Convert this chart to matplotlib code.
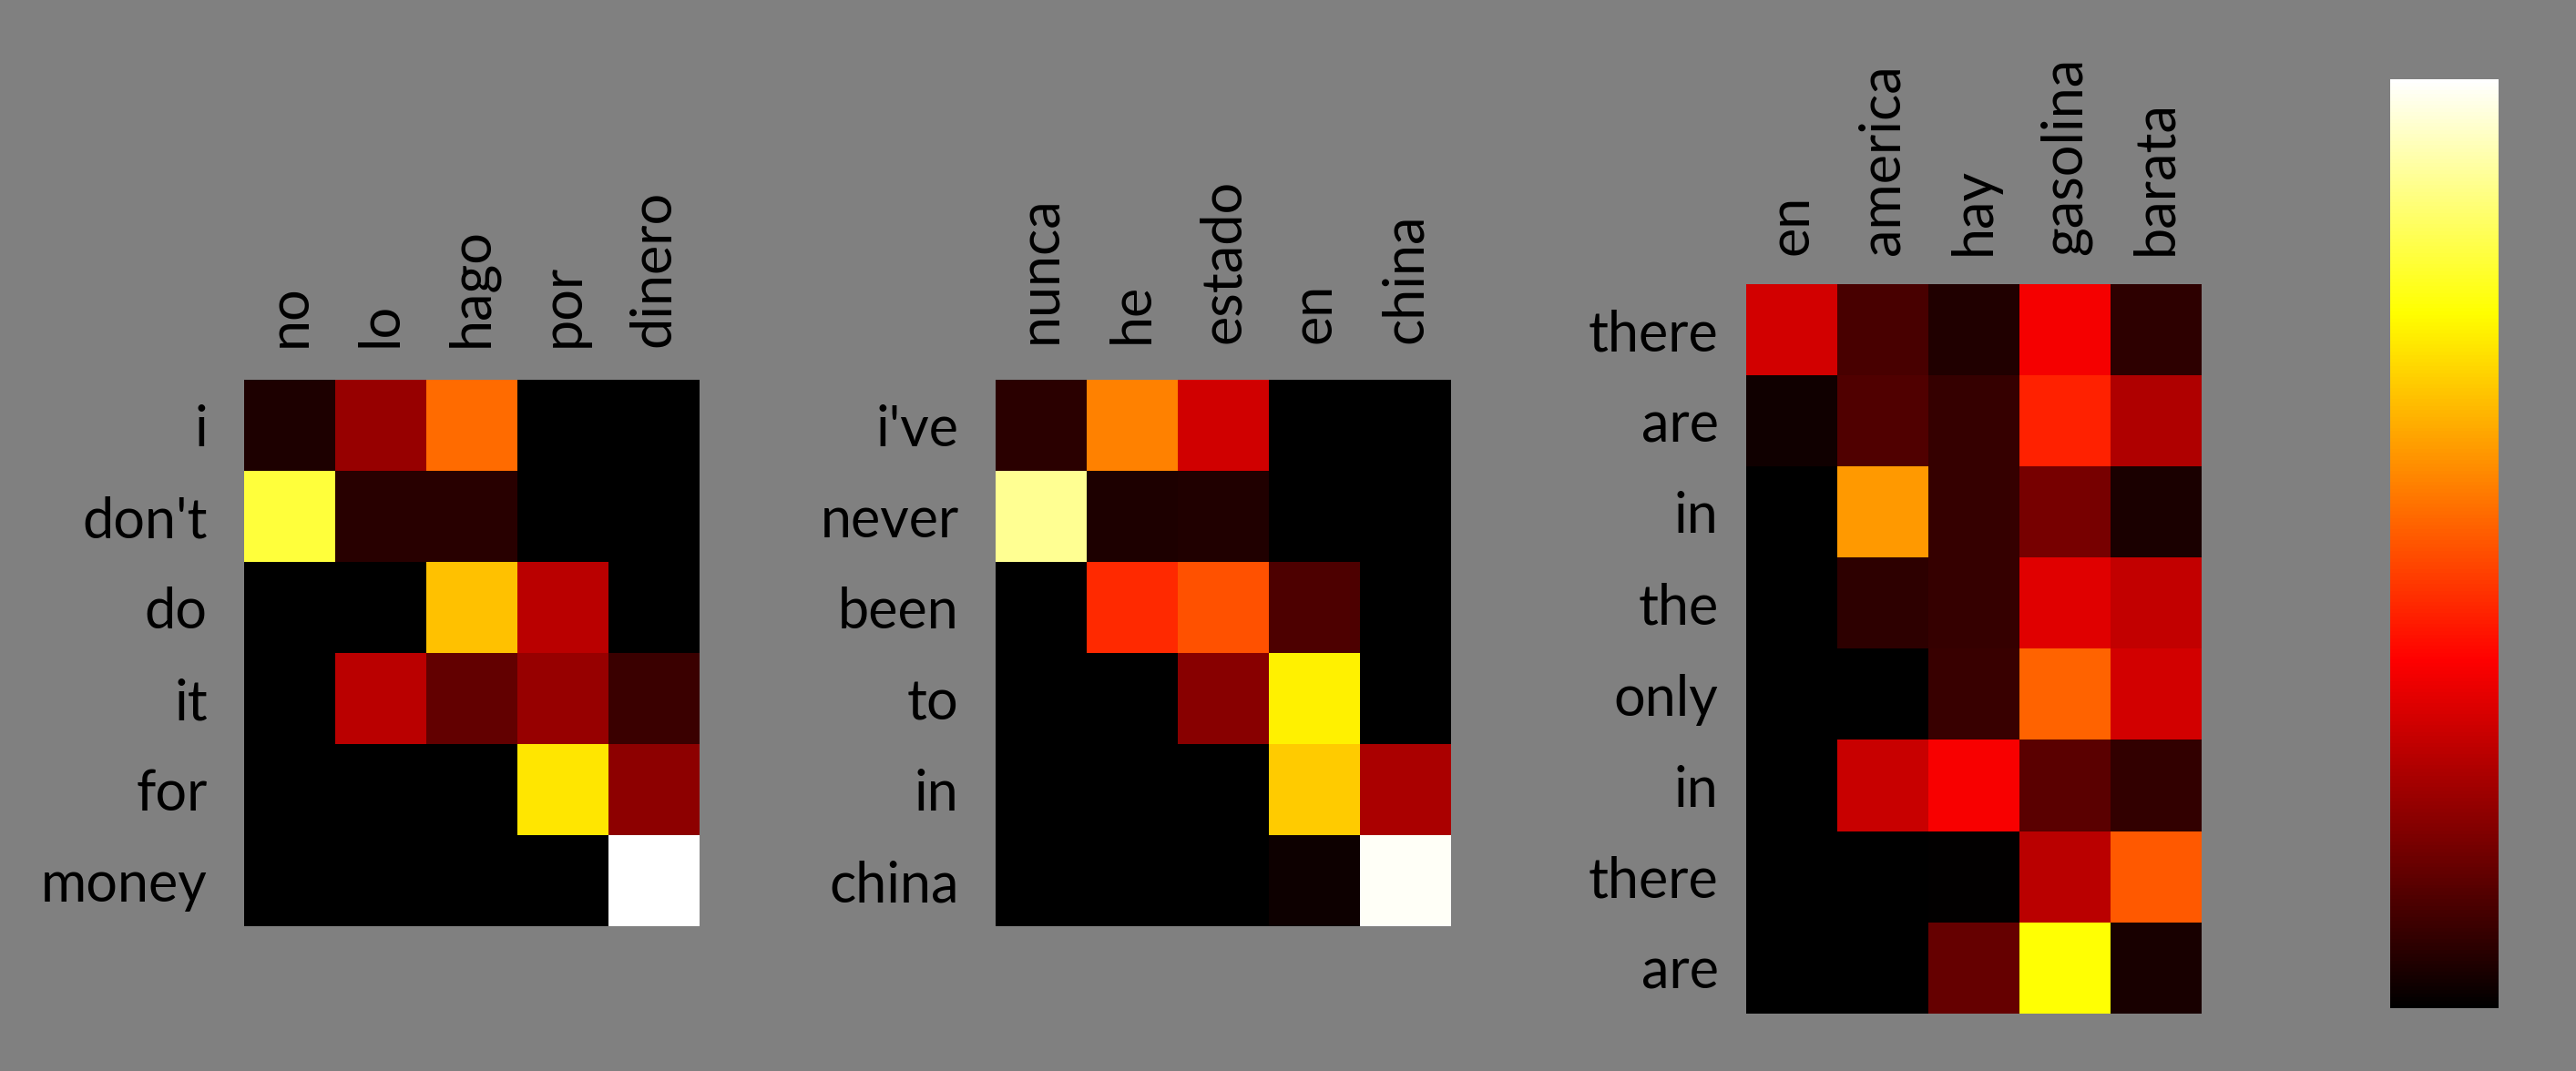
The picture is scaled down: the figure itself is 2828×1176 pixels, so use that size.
import matplotlib

matplotlib.use("Agg")

import matplotlib.pyplot as plt
import numpy as np
from matplotlib.colors import LinearSegmentedColormap

plt.rcParams["font.family"] = ["Lato", "DejaVu Sans"]

BG = "#808080"

# panel 1
src_1 = ["no", "lo", "hago", "por", "dinero"]
tgt_1 = ["i", "don't", "do", "it", "for", "money"]
att_1 = [
    [0.044, 0.225, 0.535, 0.0, 0.0],
    [0.807, 0.059, 0.062, 0.0, 0.0],
    [0.0, 0.0, 0.657, 0.275, 0.0],
    [0.0, 0.275, 0.147, 0.225, 0.088],
    [0.0, 0.0, 0.0, 0.713, 0.210],
    [0.0, 0.0, 0.0, 0.0, 1.0],
]

# panel 2
src_2 = ["nunca", "he", "estado", "en", "china"]
tgt_2 = ["i've", "never", "been", "to", "in", "china"]
att_2 = [
    [0.066, 0.563, 0.306, 0.0, 0.0],
    [0.891, 0.044, 0.050, 0.0, 0.0],
    [0.0, 0.434, 0.493, 0.115, 0.0],
    [0.0, 0.0, 0.203, 0.728, 0.0],
    [0.0, 0.0, 0.0, 0.675, 0.250],
    [0.0, 0.0, 0.0, 0.020, 0.990],
]

# panel 3
src_3 = ["en", "america", "hay", "gasolina", "barata"]
tgt_3 = ["there", "are", "in", "the", "only", "in", "there", "are"]
att_3 = [
    [0.312, 0.106, 0.047, 0.360, 0.070],
    [0.024, 0.118, 0.079, 0.425, 0.259],
    [0.0, 0.600, 0.082, 0.176, 0.041],
    [0.0, 0.070, 0.079, 0.329, 0.288],
    [0.0, 0.0, 0.085, 0.522, 0.312],
    [0.0, 0.294, 0.365, 0.135, 0.076],
    [0.0, 0.0, 0.006, 0.276, 0.507],
    [0.0, 0.0, 0.150, 0.750, 0.038],
]

cmap = LinearSegmentedColormap.from_list(
    "hot_black",
    [(0.0, "#000000"), (0.375, "#ff0000"), (0.75, "#ffff00"), (1.0, "#ffffff")],
)

fig = plt.figure(figsize=(28.28, 11.76), dpi=100, facecolor=BG)

panels = [
    # rect, src, tgt, data, xpad, ypad
    ([0.0948, 0.1352, 0.1768, 0.5102], src_1, tgt_1, att_1, 26, 29),
    ([0.3865, 0.1352, 0.1768, 0.5102], src_2, tgt_2, att_2, 29, 29),
    ([0.6779, 0.0536, 0.1768, 0.6811], src_3, tgt_3, att_3, 23, 22),
]

im = None
for rect, src, tgt, data, xpad, ypad in panels:
    ax = fig.add_axes(rect)
    im = ax.imshow(np.array(data), cmap=cmap, vmin=0, vmax=1, aspect="auto",
                   interpolation="nearest")
    ax.xaxis.tick_top()
    ax.set_xticks(range(len(src)))
    ax.set_xticklabels(src, rotation=90, fontsize=44)
    ax.set_yticks(range(len(tgt)))
    ax.set_yticklabels(tgt, fontsize=44)
    ax.tick_params(axis="x", length=0, pad=xpad)
    ax.tick_params(axis="y", length=0, pad=ypad)
    for s in ax.spines.values():
        s.set_visible(False)

cax = fig.add_axes([0.9279, 0.0587, 0.0421, 0.8673])
cb = fig.colorbar(im, cax=cax)
cb.set_ticks([])
cb.outline.set_visible(False)

fig.savefig("out.png", dpi=100, facecolor=BG)
